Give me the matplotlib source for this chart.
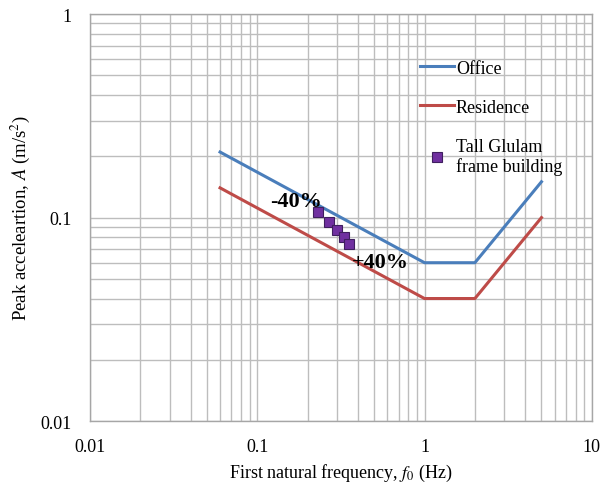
import matplotlib
matplotlib.use('Agg')
import matplotlib.pyplot as plt
from matplotlib.ticker import LogLocator, FixedLocator, FixedFormatter, NullFormatter

plt.rcParams['font.family'] = ['Liberation Serif', 'DejaVu Serif']
plt.rcParams['mathtext.fontset'] = 'stix'

# criteria curves (ISO 10137 style)
office_f = [0.06, 1.0, 2.0, 5.0]
office_a = [0.21, 0.06, 0.06, 0.15]
resid_f = [0.06, 1.0, 2.0, 5.0]
resid_a = [0.14, 0.04, 0.04, 0.10]

# tall glulam frame building, stiffness -40% .. +40%
bldg_f = [0.232, 0.268, 0.300, 0.329, 0.355]
bldg_a = [0.107, 0.095, 0.087, 0.080, 0.074]

xticks = [0.01, 0.1, 1, 10]
xlabels = ['0.01', '0.1', '1', '10']
yticks = [0.01, 0.1, 1]
ylabels = ['0.01', '0.1', '1']

fig = plt.figure(figsize=(6.03, 4.89), dpi=100)
ax = fig.add_axes([0.149, 0.137, 0.8325, 0.832])

ax.set_xscale('log')
ax.set_yscale('log')
ax.set_xlim(0.01, 10)
ax.set_ylim(0.01, 1)

gc = '#bdbdbd'
ax.xaxis.set_minor_locator(LogLocator(base=10, subs=range(2, 10)))
ax.yaxis.set_minor_locator(LogLocator(base=10, subs=range(2, 10)))
ax.xaxis.set_minor_formatter(NullFormatter())
ax.yaxis.set_minor_formatter(NullFormatter())
ax.xaxis.set_major_locator(FixedLocator(xticks))
ax.xaxis.set_major_formatter(FixedFormatter(xlabels))
ax.yaxis.set_major_locator(FixedLocator(yticks))
ax.yaxis.set_major_formatter(FixedFormatter(ylabels))
ax.grid(True, which='both', color=gc, lw=1.0)
ax.tick_params(which='both', length=0, labelsize=13, pad=12)
ax.tick_params(axis='y', pad=13)
for s in ax.spines.values():
    s.set_color('#a6a6a6')
    s.set_linewidth(1.0)
ax.set_axisbelow(True)

ax.plot(office_f, office_a, color='#4a7ebb', lw=2.2, label='Office')
ax.plot(resid_f, resid_a, color='#be4b48', lw=2.2, label='Residence')
ax.plot(bldg_f, bldg_a, ls='none', marker='s', ms=7, mfc='#7030a0', mec='#3f1f5f',
        mew=0.8, label='Tall Glulam\nframe building', zorder=5)

ax.text(0.245, 0.108, '-40%', fontsize=16, fontweight='bold', ha='right', va='bottom')
ax.text(0.37, 0.068, '+40%', fontsize=16, fontweight='bold', ha='left', va='top')

ax.legend(loc='upper left', bbox_to_anchor=(0.625, 0.928), frameon=False, fontsize=13,
          labelspacing=1.22, handlelength=1.9, handletextpad=0.1)

ax.set_xlabel('First natural frequency, $\\mathit{f}_0$ (Hz)', fontsize=13, labelpad=5)
ax.set_ylabel('Peak acceleartion, $\\mathit{A}$ (m/s$^2$)', fontsize=13.5, labelpad=6)

fig.savefig('out.png', dpi=100)
